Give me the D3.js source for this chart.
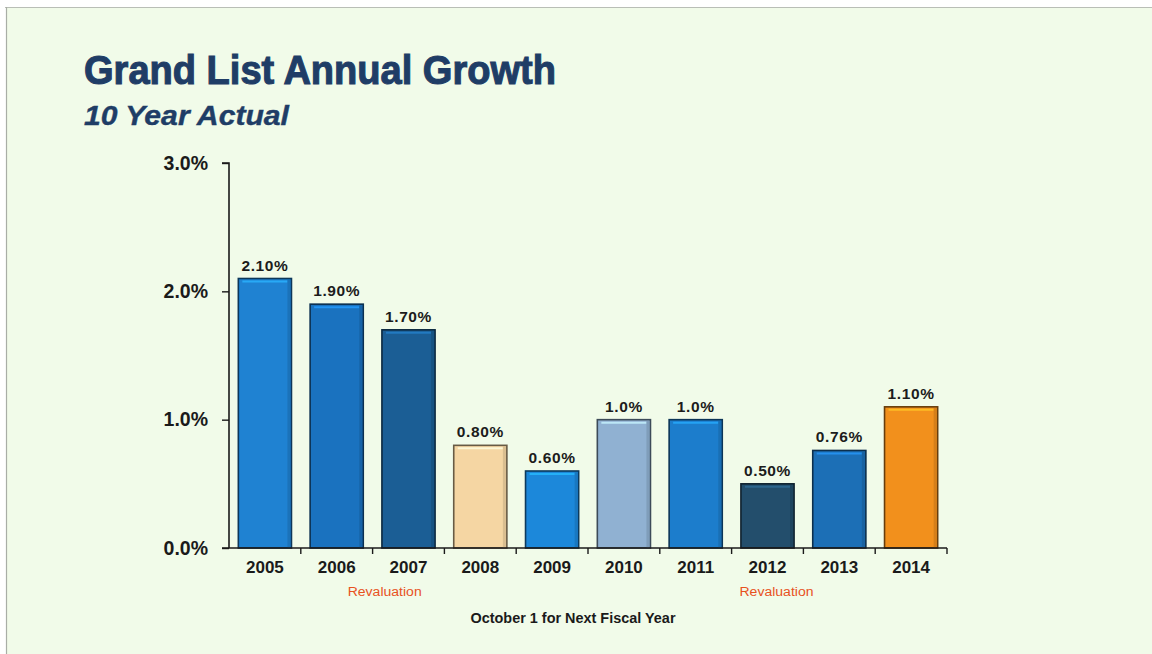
<!DOCTYPE html>
<html>
<head>
<meta charset="utf-8">
<script src="https://cdn.jsdelivr.net/npm/d3@7/dist/d3.min.js"></script>
<style>
  html, body { margin: 0; padding: 0; background: #ffffff; }
  svg { display: block; }
</style>
</head>
<body>
<svg id="chart" width="1152" height="654"></svg>
<script>
// Grand List annual growth, by October 1 of each year
const years = ["2005", "2006", "2007", "2008", "2009", "2010", "2011", "2012", "2013", "2014"];
const growth = [2.10, 1.90, 1.70, 0.80, 0.60, 1.0, 1.0, 0.50, 0.76, 1.10];
const valueLabels = ["2.10%", "1.90%", "1.70%", "0.80%", "0.60%", "1.0%", "1.0%", "0.50%", "0.76%", "1.10%"];
const barColors = ["#1f82d2", "#1a72bf", "#1b5e95", "#f5d6a3", "#1c88da", "#90b1d2", "#1c7dcc", "#234e6c", "#1c6fb6", "#f2901c"];
const yTicks = [0, 1, 2, 3];
const yTickLabels = ["0.0%", "1.0%", "2.0%", "3.0%"];
const revaluationYears = ["2006", "2012"];

const svg = d3.select("#chart");
const W = 1152, H = 654;

// slide panel with a thin frame on top and left
svg.append("rect").attr("x", 0).attr("y", 0).attr("width", W).attr("height", H).attr("fill", "#ffffff");
svg.append("rect").attr("x", 6).attr("y", 7).attr("width", W - 6).attr("height", H - 7).attr("fill", "#f1fbe9");
svg.append("line").attr("x1", 5).attr("x2", W).attr("y1", 7.5).attr("y2", 7.5)
  .attr("stroke", "#b9beb6").attr("stroke-width", 1.2);
svg.append("line").attr("x1", 6.5).attr("x2", 6.5).attr("y1", 7).attr("y2", H)
  .attr("stroke", "#a9aea6").attr("stroke-width", 1.2);

const font = "Liberation Sans, Arial, sans-serif";

// titles
svg.append("text").attr("x", 84).attr("y", 84)
  .attr("font-family", font).attr("font-weight", "bold")
  .attr("font-size", 40).attr("fill", "#1f3d66")
  .attr("stroke", "#1f3d66").attr("stroke-width", 1.1)
  .attr("textLength", 472).attr("lengthAdjust", "spacingAndGlyphs")
  .text("Grand List Annual Growth");
svg.append("text").attr("x", 84).attr("y", 125)
  .attr("font-family", font).attr("font-weight", "bold")
  .attr("font-style", "italic").attr("font-size", 27).attr("fill", "#1f3d66")
  .attr("stroke", "#1f3d66").attr("stroke-width", 0.4)
  .attr("textLength", 205).attr("lengthAdjust", "spacingAndGlyphs")
  .text("10 Year Actual");

// scales
const x0 = 229, x1 = 947, yTop = 163, yBot = 548;
const x = d3.scaleBand().domain(years).range([x0, x1]).paddingInner(0.26).paddingOuter(0.13);
const y = d3.scaleLinear().domain([0, 3]).range([yBot, yTop]);

// bars
const bars = svg.append("g");
years.forEach((yr, i) => {
  const bx = x(yr), bw = x.bandwidth(), by = y(growth[i]), bh = yBot - by;
  const c = d3.color(barColors[i]);
  bars.append("rect").attr("x", bx).attr("y", by).attr("width", bw).attr("height", bh)
    .attr("fill", barColors[i]).attr("stroke", c.darker(2.4)).attr("stroke-width", 1.6);
  // thin highlight just below the top edge
  bars.append("line").attr("x1", bx + 4).attr("x2", bx + bw - 4)
    .attr("y1", by + 3).attr("y2", by + 3)
    .attr("stroke", c.brighter(0.9)).attr("stroke-width", 2).attr("opacity", 0.8);
  // inner shade on the right edge
  bars.append("rect").attr("x", bx + bw - 4).attr("y", by + 1).attr("width", 3).attr("height", bh - 1)
    .attr("fill", c.darker(0.6)).attr("opacity", 0.6);
  // value label
  svg.append("text").attr("x", bx + bw / 2).attr("y", by - 8)
    .attr("text-anchor", "middle").attr("font-family", font).attr("font-weight", "bold")
    .attr("font-size", 15.5).attr("letter-spacing", 0.6).attr("fill", "#1c1c1c").text(valueLabels[i]);
});

// y axis
const yAxis = d3.axisLeft(y).tickValues(yTicks).tickFormat((d, i) => yTickLabels[i]).tickSize(7).tickPadding(14);
const gy = svg.append("g").attr("transform", `translate(${x0},0)`).call(yAxis);
gy.select(".domain").attr("stroke", "#1a1a1a").attr("stroke-width", 1.6).attr("d", `M-7,${yTop}H0V${yBot}`);
gy.selectAll(".tick line").attr("stroke", "#1a1a1a").attr("stroke-width", 1.4);
gy.selectAll(".tick text").attr("font-family", font).attr("font-weight", "bold")
  .attr("font-size", 19.5).attr("fill", "#1a1a1a");

// x axis with ticks at category boundaries
const gx = svg.append("g");
gx.append("line").attr("x1", x0 - 7).attr("x2", x1).attr("y1", yBot).attr("y2", yBot)
  .attr("stroke", "#1a1a1a").attr("stroke-width", 1.6);
const step = x.step();
const boundaries = years.map((yr, i) => x(yr) - x.paddingInner() * step / 2).slice(1).concat([x1]);
boundaries.forEach(bx => {
  gx.append("line").attr("x1", bx).attr("x2", bx).attr("y1", yBot).attr("y2", yBot + 6)
    .attr("stroke", "#1a1a1a").attr("stroke-width", 1.4);
});
years.forEach(yr => {
  gx.append("text").attr("x", x(yr) + x.bandwidth() / 2).attr("y", 573)
    .attr("text-anchor", "middle").attr("font-family", font).attr("font-weight", "bold")
    .attr("font-size", 17).attr("fill", "#1a1a1a").text(yr);
});
// revaluation notes sit a little to the right of their year label
const revalShift = { "2006": 48, "2012": 9 };
revaluationYears.forEach(yr => {
  gx.append("text").attr("x", x(yr) + x.bandwidth() / 2 + revalShift[yr]).attr("y", 596)
    .attr("text-anchor", "middle").attr("font-family", font)
    .attr("font-size", 12).attr("fill", "#e8521e")
    .attr("textLength", 74).attr("lengthAdjust", "spacingAndGlyphs").text("Revaluation");
});
gx.append("text").attr("x", 573).attr("y", 623)
  .attr("text-anchor", "middle").attr("font-family", font).attr("font-weight", "bold")
  .attr("font-size", 14.5).attr("fill", "#1a1a1a")
  .attr("textLength", 205).attr("lengthAdjust", "spacingAndGlyphs")
  .text("October 1 for Next Fiscal Year");
</script>
</body>
</html>
